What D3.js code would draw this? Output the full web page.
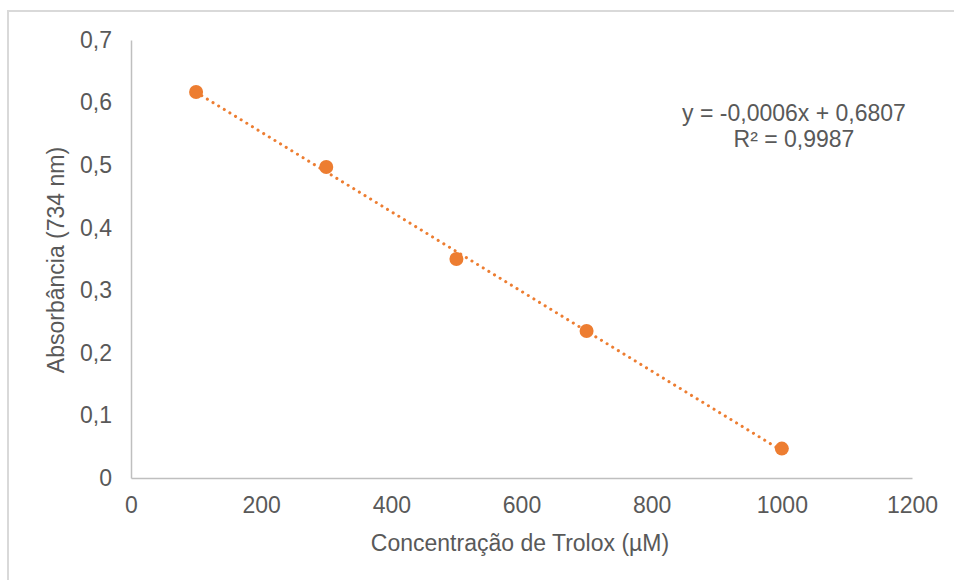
<!DOCTYPE html>
<meta charset="utf-8">
<script src="https://d3js.org/d3.v7.min.js"></script>
<style>
  body { margin: 0; background: #fff; }
  text { font-family: "Liberation Sans", Arial, sans-serif; fill: #595959; }
</style>
<svg id="chart"></svg>
<script>

// data
var concentration = [100, 300, 500, 700, 1000];
var absorbance = [0.617, 0.497, 0.350, 0.235, 0.047];
var xTicks = [0, 200, 400, 600, 800, 1000, 1200];
var yTicks = [0, 0.1, 0.2, 0.3, 0.4, 0.5, 0.6, 0.7];
var equationLines = ["y = -0,0006x + 0,6807", "R² = 0,9987"];

var width = 954, height = 580;
var margin = { top: 40, right: 42, bottom: 102, left: 131 };
var fontSize = "23px";

var svg = d3.select("#chart")
  .attr("width", width)
  .attr("height", height);

// outer chart border
svg.append("rect")
  .attr("x", 8).attr("y", 11)
  .attr("width", width).attr("height", height)
  .attr("fill", "#fff")
  .attr("stroke", "#d9d9d9")
  .attr("stroke-width", 2);

var x = d3.scaleLinear().domain([0, 1200]).range([margin.left, width - margin.right]);
var y = d3.scaleLinear().domain([0, 0.7]).range([height - margin.bottom, margin.top]);

var fmt = function (d) { return String(d).replace(".", ","); };

// x axis
var gx = svg.append("g")
  .attr("transform", "translate(0," + y(0) + ")")
  .call(d3.axisBottom(x).tickValues(xTicks).tickSize(0).tickPadding(19).tickFormat(fmt));
gx.select(".domain").attr("stroke", "#bfbfbf").attr("stroke-width", 1.5);
gx.selectAll("text").style("font-size", fontSize).style("font-family", "Liberation Sans, Arial, sans-serif").attr("fill", "#595959");

// y axis
var gy = svg.append("g")
  .attr("transform", "translate(" + x(0) + ",0)")
  .call(d3.axisLeft(y).tickValues(yTicks).tickSize(0).tickPadding(19).tickFormat(fmt));
gy.select(".domain").attr("stroke", "#bfbfbf").attr("stroke-width", 1.5);
gy.selectAll("text").style("font-size", fontSize).style("font-family", "Liberation Sans, Arial, sans-serif").attr("fill", "#595959");

// axis titles
svg.append("text")
  .attr("x", 520).attr("y", 551)
  .attr("text-anchor", "middle")
  .style("font-size", fontSize)
  .text("Concentração de Trolox (µM)");

svg.append("text")
  .attr("transform", "translate(64," + 260 + ") rotate(-90)")
  .attr("text-anchor", "middle")
  .style("font-size", fontSize)
  .text("Absorbância (734 nm)");

// linear trendline fitted to the points
var mx = d3.mean(concentration), my = d3.mean(absorbance);
var sxy = d3.sum(concentration, function (c, i) { return (c - mx) * (absorbance[i] - my); });
var sxx = d3.sum(concentration, function (c) { return (c - mx) * (c - mx); });
var slope = sxy / sxx, intercept = my - slope * mx;
var ends = [d3.min(concentration), d3.max(concentration)];

svg.append("path")
  .datum(ends)
  .attr("d", d3.line()
    .x(function (d) { return x(d); })
    .y(function (d) { return y(slope * d + intercept); }))
  .attr("fill", "none")
  .attr("stroke", "#ed7d31")
  .attr("stroke-width", 3)
  .attr("stroke-linecap", "round")
  .attr("stroke-dasharray", "0.1 6.5");

// points
svg.append("g")
  .selectAll("circle")
  .data(concentration)
  .enter()
  .append("circle")
    .attr("cx", function (d) { return x(d); })
    .attr("cy", function (d, i) { return y(absorbance[i]); })
    .attr("r", 7)
    .attr("fill", "#ed7d31");

// equation label
svg.append("g")
  .selectAll("text")
  .data(equationLines)
  .enter()
  .append("text")
    .attr("x", 794)
    .attr("y", function (d, i) { return 121 + i * 26; })
    .attr("text-anchor", "middle")
    .style("font-size", fontSize)
    .text(function (d) { return d; });

</script>
